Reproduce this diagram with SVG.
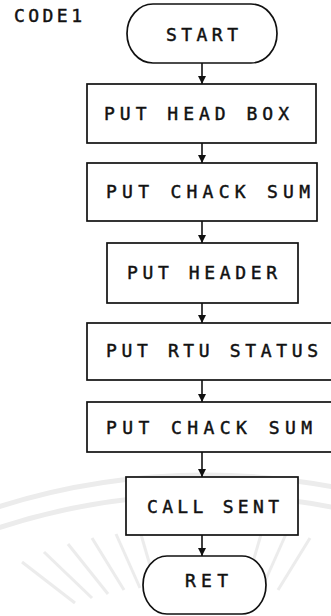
<svg xmlns="http://www.w3.org/2000/svg" width="331" height="616" viewBox="0 0 331 616">
  <style>
    .box { fill: #ffffff; stroke: #111111; stroke-width: 1.7; }
    .lbl { font-family: "DejaVu Sans Mono", "Liberation Mono", monospace; font-size: 18px; fill: #111111; stroke: #111111; stroke-width: 0.45; }
    .flow { stroke: #111111; stroke-width: 1.6; fill: none; marker-end: url(#arrow); }
    .wm { fill: none; stroke: #ececec; }
  </style>
  <defs>
    <marker id="arrow" markerUnits="userSpaceOnUse" markerWidth="8" markerHeight="8" refX="7" refY="3.5" orient="auto" viewBox="0 0 7 7">
      <path d="M0,0 L7,3.5 L0,7 Z" fill="#111111"/>
    </marker>
  </defs>

  <rect x="0" y="0" width="331" height="616" fill="#ffffff"/>

  <!-- faint background emblem -->
  <g id="emblem">
    <circle class="wm" cx="205" cy="1160" r="685" stroke-width="5"/>
    <circle class="wm" cx="205" cy="1160" r="665" stroke-width="5"/>
    <g stroke-width="3" class="wm">
      <path d="M22,562 L75,603"/>
      <path d="M44,552 L92,598"/>
      <path d="M68,544 L108,594"/>
      <path d="M92,538 L124,590"/>
      <path d="M116,534 L140,588"/>
      <path d="M140,531 L156,586"/>
      <path d="M262,531 L246,586"/>
      <path d="M286,534 L262,588"/>
      <path d="M310,538 L278,590"/>
    </g>
  </g>

  <text class="lbl" x="14" y="22" textLength="68" lengthAdjust="spacing">CODE1</text>

  <g id="connectors">
    <line class="flow" x1="202" y1="63" x2="202" y2="84"/>
    <line class="flow" x1="202" y1="143" x2="202" y2="163"/>
    <line class="flow" x1="202" y1="221" x2="202" y2="243"/>
    <line class="flow" x1="202" y1="303" x2="202" y2="323"/>
    <line class="flow" x1="202" y1="380" x2="202" y2="402"/>
    <line class="flow" x1="202" y1="452" x2="202" y2="477"/>
    <line class="flow" x1="202" y1="535" x2="202" y2="556"/>
  </g>

  <g id="start">
    <rect class="box" x="127" y="4" width="150" height="59" rx="26" ry="29.5"/>
    <text class="lbl" x="166" y="41" textLength="72" lengthAdjust="spacing">START</text>
  </g>

  <g id="put-head-box">
    <rect class="box" x="87" y="84" width="229" height="59"/>
    <text class="lbl" x="104" y="120" textLength="185" lengthAdjust="spacing">PUT HEAD BOX</text>
  </g>

  <g id="put-chack-sum-1">
    <rect class="box" x="87" y="163" width="230" height="58"/>
    <text class="lbl" x="106" y="198" textLength="204" lengthAdjust="spacing">PUT CHACK SUM</text>
  </g>

  <g id="put-header">
    <rect class="box" x="107" y="243" width="191" height="60"/>
    <text class="lbl" x="127" y="279" textLength="150" lengthAdjust="spacing">PUT HEADER</text>
  </g>

  <g id="put-rtu-status">
    <rect class="box" x="87" y="323" width="260" height="57"/>
    <text class="lbl" x="106" y="357" textLength="212" lengthAdjust="spacing">PUT RTU STATUS</text>
  </g>

  <g id="put-chack-sum-2">
    <rect class="box" x="87" y="402" width="260" height="50"/>
    <text class="lbl" x="106" y="434" textLength="206" lengthAdjust="spacing">PUT CHACK SUM</text>
  </g>

  <g id="call-sent">
    <rect class="box" x="126" y="477" width="172" height="58"/>
    <text class="lbl" x="147" y="513" textLength="132" lengthAdjust="spacing">CALL SENT</text>
  </g>

  <g id="ret">
    <rect class="box" x="143" y="556" width="123" height="58" rx="24" ry="29"/>
    <text class="lbl" x="185" y="587" textLength="43" lengthAdjust="spacing">RET</text>
  </g>
</svg>
